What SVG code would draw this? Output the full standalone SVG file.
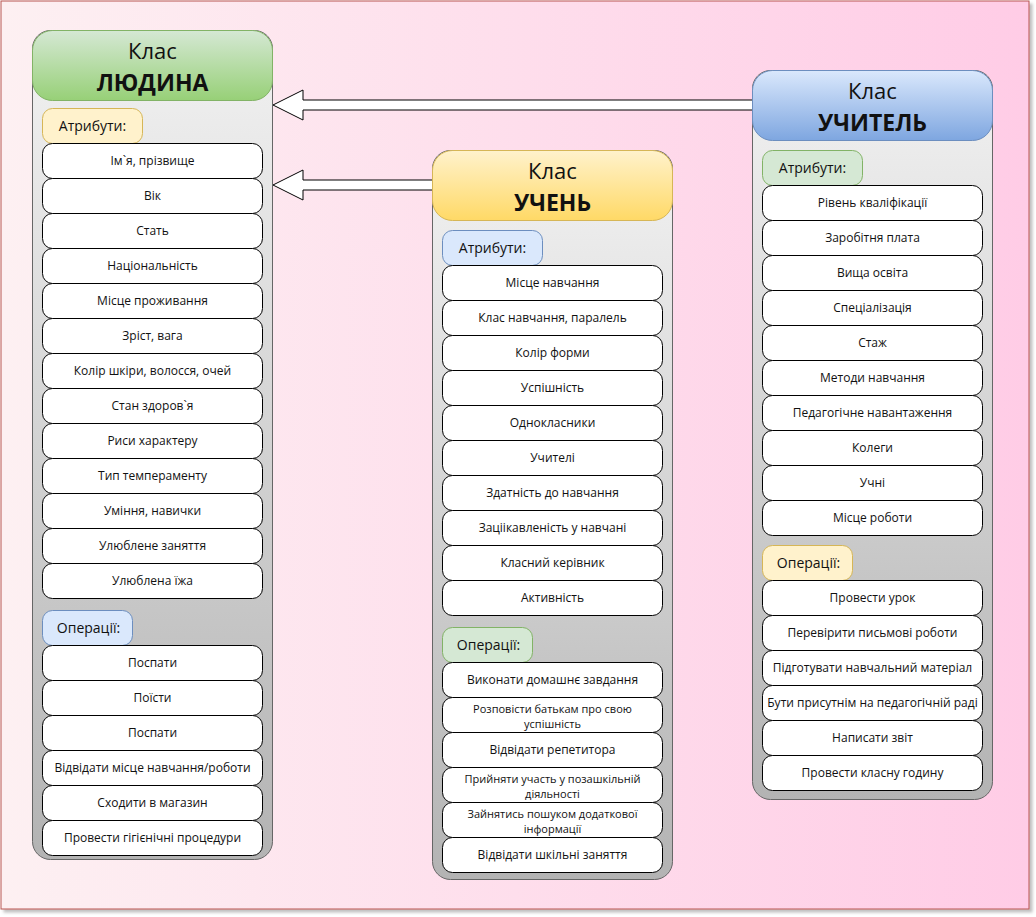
<svg xmlns="http://www.w3.org/2000/svg" width="1036" height="917" viewBox="0 0 1036 917">
<defs>
<linearGradient id="bg" x1="0" y1="0" x2="1" y2="0"><stop offset="0" stop-color="#fdf0f2"/><stop offset="1" stop-color="#ffcce6"/></linearGradient>
<linearGradient id="gray" x1="0" y1="0" x2="0" y2="1"><stop offset="0" stop-color="#f2f2f2"/><stop offset="1" stop-color="#b3b3b3"/></linearGradient>
<linearGradient id="green" x1="0" y1="0" x2="0" y2="1"><stop offset="0" stop-color="#d5e8d4"/><stop offset="1" stop-color="#97d077"/></linearGradient>
<linearGradient id="yellow" x1="0" y1="0" x2="0" y2="1"><stop offset="0" stop-color="#fff2cc"/><stop offset="1" stop-color="#ffd966"/></linearGradient>
<linearGradient id="blue" x1="0" y1="0" x2="0" y2="1"><stop offset="0" stop-color="#dae8fc"/><stop offset="1" stop-color="#7ea6e0"/></linearGradient>
<filter id="sh" x="-5%" y="-5%" width="110%" height="110%"><feDropShadow dx="3" dy="3" stdDeviation="1.5" flood-color="#000" flood-opacity="0.25"/></filter>
</defs>
<style>
text{font-family:"Open Sans","Noto Sans","DejaVu Sans",sans-serif;fill:#111;text-anchor:middle}
.cont{fill:url(#gray);stroke:#666;stroke-width:1}
.item{fill:#fff;stroke:#000;stroke-width:1}
.it{font-size:12px}
.it2{font-size:11px}
.lb{font-size:14px}
.t1{font-size:22px}
.t2{font-size:23px;font-weight:bold}
.hg{fill:url(#green);stroke:#82b366}
.hy{fill:url(#yellow);stroke:#d6b656}
.hb{fill:url(#blue);stroke:#6c8ebf}
.lg{fill:#d5e8d4;stroke:#82b366}
.ly{fill:#fff2cc;stroke:#d6b656}
.lbl{fill:#dae8fc;stroke:#6c8ebf}
.arrow{fill:#fff;stroke:#000;stroke-width:1;stroke-linejoin:miter}
</style>
<rect x="1" y="1" width="1028" height="908" fill="url(#bg)" stroke="#b85450" filter="url(#sh)"/>
<g id="connectors">
<polygon class="arrow" points="752.5,100 303,100 303,90 273,105 303,120 303,110 752.5,110"/>
<polygon class="arrow" points="432.5,180 303,180 303,170 273,185 303,200 303,190 432.5,190"/>
</g>
<g id="lyudyna">
<rect class="cont" x="32.5" y="30.5" width="240" height="829" rx="18"/>
<rect class="hg" x="32.5" y="30.5" width="240" height="70" rx="20"/>
<text class="t1" x="152.5" y="59">Клас</text>
<text class="t2" x="152.5" y="90.5">ЛЮДИНА</text>
<rect class="ly" x="42.5" y="108.5" width="100" height="35" rx="10"/>
<text class="lb" x="92.5" y="131">Атрибути:</text>
<rect class="item" x="42.5" y="143.5" width="220" height="35" rx="10"/><text class="it" x="152.5" y="165">Ім`я, прізвище</text>
<rect class="item" x="42.5" y="178.5" width="220" height="35" rx="10"/><text class="it" x="152.5" y="200">Вік</text>
<rect class="item" x="42.5" y="213.5" width="220" height="35" rx="10"/><text class="it" x="152.5" y="235">Стать</text>
<rect class="item" x="42.5" y="248.5" width="220" height="35" rx="10"/><text class="it" x="152.5" y="270">Національність</text>
<rect class="item" x="42.5" y="283.5" width="220" height="35" rx="10"/><text class="it" x="152.5" y="305">Місце проживання</text>
<rect class="item" x="42.5" y="318.5" width="220" height="35" rx="10"/><text class="it" x="152.5" y="340">Зріст, вага</text>
<rect class="item" x="42.5" y="353.5" width="220" height="35" rx="10"/><text class="it" x="152.5" y="375">Колір шкіри, волосся, очей</text>
<rect class="item" x="42.5" y="388.5" width="220" height="35" rx="10"/><text class="it" x="152.5" y="410">Стан здоров`я</text>
<rect class="item" x="42.5" y="423.5" width="220" height="35" rx="10"/><text class="it" x="152.5" y="445">Риси характеру</text>
<rect class="item" x="42.5" y="458.5" width="220" height="35" rx="10"/><text class="it" x="152.5" y="480">Тип темпераменту</text>
<rect class="item" x="42.5" y="493.5" width="220" height="35" rx="10"/><text class="it" x="152.5" y="515">Уміння, навички</text>
<rect class="item" x="42.5" y="528.5" width="220" height="35" rx="10"/><text class="it" x="152.5" y="550">Улюблене заняття</text>
<rect class="item" x="42.5" y="563.5" width="220" height="35" rx="10"/><text class="it" x="152.5" y="585">Улюблена їжа</text>
<rect class="lbl" x="42.5" y="610.5" width="90" height="35" rx="10"/>
<text class="lb" x="88.5" y="633">Операції:</text>
<rect class="item" x="42.5" y="645.5" width="220" height="35" rx="10"/><text class="it" x="152.5" y="667">Поспати</text>
<rect class="item" x="42.5" y="680.5" width="220" height="35" rx="10"/><text class="it" x="152.5" y="702">Поїсти</text>
<rect class="item" x="42.5" y="715.5" width="220" height="35" rx="10"/><text class="it" x="152.5" y="737">Поспати</text>
<rect class="item" x="42.5" y="750.5" width="220" height="35" rx="10"/><text class="it" x="152.5" y="772">Відвідати місце навчання/роботи</text>
<rect class="item" x="42.5" y="785.5" width="220" height="35" rx="10"/><text class="it" x="152.5" y="807">Сходити в магазин</text>
<rect class="item" x="42.5" y="820.5" width="220" height="35" rx="10"/><text class="it" x="152.5" y="842">Провести гігієнічні процедури</text>
</g>
<g id="uchen">
<rect class="cont" x="432.5" y="150.5" width="240" height="729" rx="18"/>
<rect class="hy" x="432.5" y="150.5" width="240" height="70" rx="20"/>
<text class="t1" x="552.5" y="179">Клас</text>
<text class="t2" x="552.5" y="210.5">УЧЕНЬ</text>
<rect class="lbl" x="442.5" y="230.5" width="100" height="35" rx="10"/>
<text class="lb" x="492.5" y="253">Атрибути:</text>
<rect class="item" x="442.5" y="265.5" width="220" height="35" rx="10"/><text class="it" x="552.5" y="287">Місце навчання</text>
<rect class="item" x="442.5" y="300.5" width="220" height="35" rx="10"/><text class="it" x="552.5" y="322">Клас навчання, паралель</text>
<rect class="item" x="442.5" y="335.5" width="220" height="35" rx="10"/><text class="it" x="552.5" y="357">Колір форми</text>
<rect class="item" x="442.5" y="370.5" width="220" height="35" rx="10"/><text class="it" x="552.5" y="392">Успішність</text>
<rect class="item" x="442.5" y="405.5" width="220" height="35" rx="10"/><text class="it" x="552.5" y="427">Однокласники</text>
<rect class="item" x="442.5" y="440.5" width="220" height="35" rx="10"/><text class="it" x="552.5" y="462">Учителі</text>
<rect class="item" x="442.5" y="475.5" width="220" height="35" rx="10"/><text class="it" x="552.5" y="497">Здатність до навчання</text>
<rect class="item" x="442.5" y="510.5" width="220" height="35" rx="10"/><text class="it" x="552.5" y="532">Заціікавленість у навчані</text>
<rect class="item" x="442.5" y="545.5" width="220" height="35" rx="10"/><text class="it" x="552.5" y="567">Класний керівник</text>
<rect class="item" x="442.5" y="580.5" width="220" height="35" rx="10"/><text class="it" x="552.5" y="602">Активність</text>
<rect class="lg" x="442.5" y="627.5" width="90" height="35" rx="10"/>
<text class="lb" x="488.5" y="650">Операції:</text>
<rect class="item" x="442.5" y="662.5" width="220" height="35" rx="10"/><text class="it" x="552.5" y="684">Виконати домашнє завдання</text>
<rect class="item" x="442.5" y="697.5" width="220" height="35" rx="10"/><text class="it2" x="552.5" y="712.5">Розповісти батькам про свою<tspan x="552.5" dy="15">успішність</tspan></text>
<rect class="item" x="442.5" y="732.5" width="220" height="35" rx="10"/><text class="it" x="552.5" y="754">Відвідати репетитора</text>
<rect class="item" x="442.5" y="767.5" width="220" height="35" rx="10"/><text class="it2" x="552.5" y="782.5">Прийняти участь у позашкільній<tspan x="552.5" dy="15">діяльності</tspan></text>
<rect class="item" x="442.5" y="802.5" width="220" height="35" rx="10"/><text class="it2" x="552.5" y="817.5">Зайнятись пошуком додаткової<tspan x="552.5" dy="15">інформації</tspan></text>
<rect class="item" x="442.5" y="837.5" width="220" height="35" rx="10"/><text class="it" x="552.5" y="859">Відвідати шкільні заняття</text>
</g>
<g id="uchytel">
<rect class="cont" x="752.5" y="70.5" width="240" height="729" rx="18"/>
<rect class="hb" x="752.5" y="70.5" width="240" height="70" rx="20"/>
<text class="t1" x="872.5" y="99">Клас</text>
<text class="t2" x="872.5" y="130.5">УЧИТЕЛЬ</text>
<rect class="lg" x="762.5" y="150.5" width="100" height="35" rx="10"/>
<text class="lb" x="812.5" y="173">Атрибути:</text>
<rect class="item" x="762.5" y="185.5" width="220" height="35" rx="10"/><text class="it" x="872.5" y="207">Рівень кваліфікації</text>
<rect class="item" x="762.5" y="220.5" width="220" height="35" rx="10"/><text class="it" x="872.5" y="242">Заробітня плата</text>
<rect class="item" x="762.5" y="255.5" width="220" height="35" rx="10"/><text class="it" x="872.5" y="277">Вища освіта</text>
<rect class="item" x="762.5" y="290.5" width="220" height="35" rx="10"/><text class="it" x="872.5" y="312">Спеціалізація</text>
<rect class="item" x="762.5" y="325.5" width="220" height="35" rx="10"/><text class="it" x="872.5" y="347">Стаж</text>
<rect class="item" x="762.5" y="360.5" width="220" height="35" rx="10"/><text class="it" x="872.5" y="382">Методи навчання</text>
<rect class="item" x="762.5" y="395.5" width="220" height="35" rx="10"/><text class="it" x="872.5" y="417">Педагогічне навантаження</text>
<rect class="item" x="762.5" y="430.5" width="220" height="35" rx="10"/><text class="it" x="872.5" y="452">Колеги</text>
<rect class="item" x="762.5" y="465.5" width="220" height="35" rx="10"/><text class="it" x="872.5" y="487">Учні</text>
<rect class="item" x="762.5" y="500.5" width="220" height="35" rx="10"/><text class="it" x="872.5" y="522">Місце роботи</text>
<rect class="ly" x="762.5" y="545.5" width="90" height="35" rx="10"/>
<text class="lb" x="808.5" y="568">Операції:</text>
<rect class="item" x="762.5" y="580.5" width="220" height="35" rx="10"/><text class="it" x="872.5" y="602">Провести урок</text>
<rect class="item" x="762.5" y="615.5" width="220" height="35" rx="10"/><text class="it" x="872.5" y="637">Перевірити письмові роботи</text>
<rect class="item" x="762.5" y="650.5" width="220" height="35" rx="10"/><text class="it" x="872.5" y="672">Підготувати навчальний матеріал</text>
<rect class="item" x="762.5" y="685.5" width="220" height="35" rx="10"/><text class="it" x="872.5" y="707">Бути присутнім на педагогічній раді</text>
<rect class="item" x="762.5" y="720.5" width="220" height="35" rx="10"/><text class="it" x="872.5" y="742">Написати звіт</text>
<rect class="item" x="762.5" y="755.5" width="220" height="35" rx="10"/><text class="it" x="872.5" y="777">Провести класну годину</text>
</g>
</svg>
